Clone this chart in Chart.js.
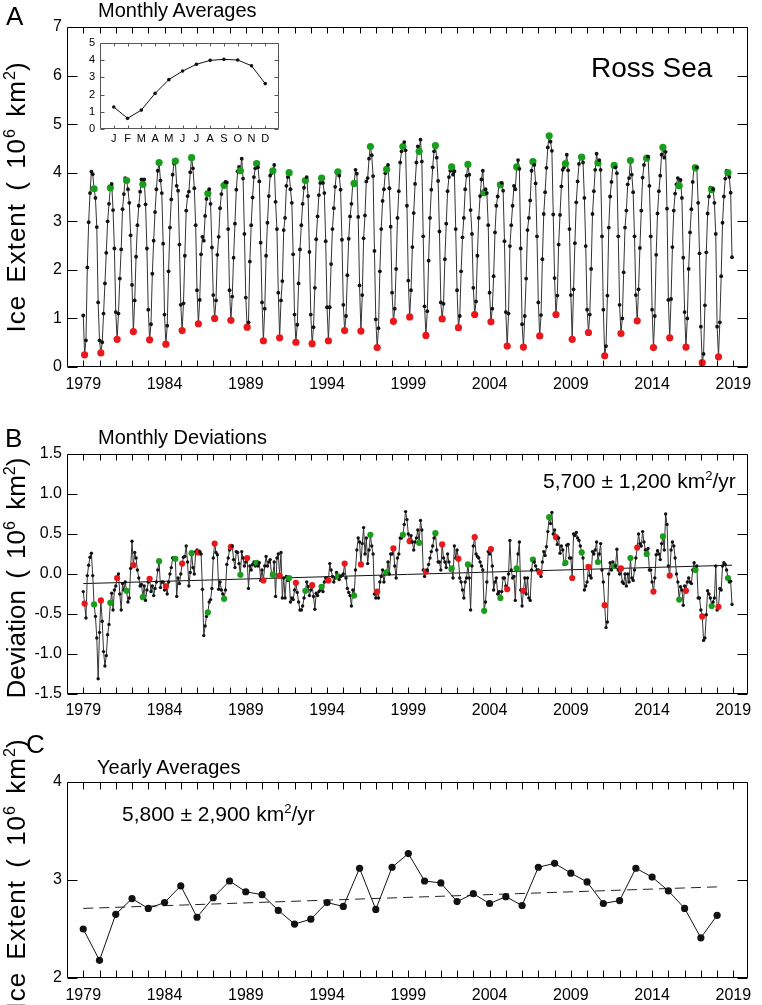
<!DOCTYPE html>
<html lang="en">
<head>
<meta charset="UTF-8">
<title>Ross Sea Ice Extent</title>
<script src="https://cdn.jsdelivr.net/npm/chart.js"></script>
<style>
    body { margin: 0; background: #fff; }
    #page {
        position: relative; width: 762px; height: 1005px; overflow: hidden;
        font-family: "Liberation Sans", Arial, sans-serif; color: #000;
    }
    canvas { position: absolute; }
    .lbl { position: absolute; white-space: nowrap; line-height: 1; }
    .panel { font-size: 26px; }
    .title { font-size: 20px; }
    .trend { font-size: 21px; }
    .ytitle {
        position: absolute; white-space: nowrap; line-height: 1;
        font-size: 26px; letter-spacing: 1px; word-spacing: 4px;
        transform: translate(-50%, -50%) rotate(-90deg);
    }
    sup { font-size: 62%; vertical-align: baseline; position: relative; top: -0.6em; letter-spacing: 0; }
</style>
</head>
<body>
<div id="page">
    <canvas id="chartA" width="762" height="400" style="left:0;top:0"></canvas>
    <canvas id="chartInset" width="240" height="120" style="left:50px;top:30px"></canvas>
    <canvas id="chartB" width="762" height="325" style="left:0;top:400px"></canvas>
    <canvas id="chartC" width="762" height="280" style="left:0;top:725px"></canvas>

    <div class="lbl panel" style="left:6px;top:3px">A</div>
    <div class="lbl title" style="left:98px;top:0px">Monthly Averages</div>
    <div class="lbl" style="left:591px;top:54px;font-size:28px">Ross Sea</div>
    <div class="ytitle" style="left:16px;top:197px">Ice Extent ( 10<sup>6</sup> km<sup>2</sup>)</div>

    <div class="lbl panel" style="left:5px;top:425px">B</div>
    <div class="lbl title" style="left:98px;top:427px">Monthly Deviations</div>
    <div class="lbl trend" style="left:543px;top:470px">5,700 ± 1,200 km<sup>2</sup>/yr</div>
    <div class="ytitle" style="left:16px;top:578px;letter-spacing:0">Deviation ( 10<sup>6</sup> km<sup>2</sup>)</div>

    <div class="lbl panel" style="left:26px;top:731px">C</div>
    <div class="lbl title" style="left:97px;top:757px">Yearly Averages</div>
    <div class="lbl trend" style="left:122px;top:803px">5,800 ± 2,900 km<sup>2</sup>/yr</div>
    <div class="ytitle" style="left:16px;top:874px">Ice Extent ( 10<sup>6</sup> km<sup>2</sup>)</div>
</div>

<script>
    // ---- data (10^6 km^2) ----
    const years = [1979, 1980, 1981, 1982, 1983, 1984, 1985, 1986, 1987, 1988,
                   1989, 1990, 1991, 1992, 1993, 1994, 1995, 1996, 1997, 1998,
                   1999, 2000, 2001, 2002, 2003, 2004, 2005, 2006, 2007, 2008,
                   2009, 2010, 2011, 2012, 2013, 2014, 2015, 2016, 2017, 2018];
    const monthLetters = ['J', 'F', 'M', 'A', 'M', 'J', 'J', 'A', 'S', 'O', 'N', 'D'];
    const climatology = [1.28, 0.62, 1.10, 2.07, 2.87, 3.37, 3.76, 3.99, 4.05, 4.01, 3.68, 2.64];
    const yearLabels = [1979, 1984, 1989, 1994, 1999, 2004, 2009, 2014, 2019];

    // monthly extent, one row per year (Jan..Dec)
    const extent = [
        [1.06, 0.25, 0.55, 2.05, 2.98, 3.58, 4.02, 3.97, 3.67, 3.48, 2.88, 1.33],
        [0.55, 0.29, 0.51, 1.10, 1.72, 2.35, 3.00, 3.36, 3.69, 3.77, 3.23, 2.44],
        [1.13, 0.57, 1.10, 1.82, 2.42, 3.25, 3.56, 3.89, 3.84, 3.66, 3.38, 2.71],
        [1.69, 0.73, 1.37, 2.27, 2.92, 3.32, 3.61, 3.86, 3.76, 3.86, 3.35, 2.44],
        [1.18, 0.56, 0.88, 1.92, 2.60, 3.19, 3.66, 4.04, 4.21, 3.84, 3.58, 2.54],
        [1.08, 0.47, 0.85, 1.97, 2.87, 3.45, 3.96, 4.19, 4.24, 3.73, 3.63, 2.52],
        [1.28, 0.75, 1.31, 2.29, 3.22, 3.52, 3.61, 4.01, 4.31, 4.09, 3.68, 2.92],
        [1.58, 0.89, 1.38, 2.32, 2.68, 2.60, 3.11, 3.46, 3.57, 3.66, 3.36, 2.46],
        [1.48, 1.00, 1.37, 2.31, 2.68, 3.27, 3.56, 3.74, 3.74, 3.81, 3.80, 2.84],
        [1.58, 0.96, 1.45, 2.25, 2.95, 3.65, 4.03, 4.12, 4.04, 4.29, 3.88, 2.74],
        [1.43, 0.82, 0.92, 2.17, 2.92, 3.49, 3.91, 4.09, 4.19, 4.11, 3.82, 2.56],
        [1.33, 0.54, 1.20, 2.29, 2.97, 3.52, 3.94, 3.99, 4.04, 4.16, 3.40, 2.84],
        [1.53, 0.60, 1.37, 1.77, 2.82, 3.07, 3.73, 3.91, 4.00, 3.66, 3.38, 2.32],
        [1.08, 0.51, 0.87, 1.72, 2.42, 2.92, 3.36, 3.69, 3.84, 3.91, 3.52, 2.37],
        [1.08, 0.48, 0.82, 1.63, 2.63, 3.10, 3.54, 3.79, 3.89, 3.79, 3.58, 2.59],
        [1.23, 0.54, 1.23, 2.12, 2.84, 3.27, 3.71, 4.01, 4.02, 3.94, 3.65, 2.62],
        [1.28, 0.75, 1.05, 1.89, 2.64, 3.10, 3.36, 3.79, 3.78, 4.06, 3.98, 3.09],
        [1.68, 0.74, 1.48, 2.65, 3.12, 3.82, 3.89, 4.29, 4.54, 4.36, 3.93, 2.39],
        [0.98, 0.40, 0.80, 1.97, 2.84, 3.42, 3.66, 3.99, 4.07, 4.16, 3.68, 2.89],
        [1.53, 0.94, 1.20, 2.02, 3.07, 3.62, 4.21, 4.44, 4.54, 4.63, 4.46, 3.32],
        [1.78, 1.03, 1.58, 2.47, 3.17, 3.77, 4.21, 4.54, 4.44, 4.68, 4.23, 2.69],
        [1.25, 0.65, 1.15, 2.19, 3.07, 3.65, 4.11, 4.44, 4.56, 4.31, 3.83, 2.79],
        [1.33, 0.99, 1.30, 2.22, 2.95, 3.62, 3.91, 4.04, 4.12, 3.96, 4.03, 2.84],
        [1.58, 0.81, 1.05, 1.97, 2.67, 3.07, 3.66, 3.94, 4.17, 3.96, 3.23, 2.74],
        [1.63, 1.08, 1.35, 2.29, 3.07, 3.52, 3.86, 4.04, 3.59, 3.66, 3.58, 2.92],
        [1.53, 0.93, 1.20, 1.87, 2.77, 3.32, 3.51, 3.77, 3.75, 3.79, 3.63, 2.59],
        [1.13, 0.43, 1.10, 2.49, 2.92, 3.32, 3.73, 3.66, 4.12, 4.26, 4.08, 2.44],
        [0.88, 0.41, 1.05, 1.82, 2.82, 3.07, 3.43, 4.04, 4.23, 4.16, 3.78, 2.69],
        [1.33, 0.64, 1.07, 2.22, 3.15, 3.60, 4.10, 4.52, 4.76, 4.64, 4.45, 3.14],
        [1.83, 1.08, 1.47, 2.52, 3.13, 3.72, 4.06, 4.11, 4.19, 4.37, 4.05, 2.84],
        [1.48, 0.57, 1.60, 2.55, 3.39, 3.82, 4.18, 4.34, 4.32, 4.21, 3.48, 2.49],
        [1.18, 0.71, 1.08, 2.02, 3.15, 3.62, 4.06, 4.39, 4.20, 4.26, 4.06, 2.69],
        [1.18, 0.23, 0.43, 1.47, 2.87, 3.51, 3.81, 4.14, 4.15, 4.11, 3.99, 2.69],
        [1.28, 0.69, 1.00, 1.95, 2.87, 3.22, 3.76, 3.89, 4.25, 3.96, 3.60, 2.69],
        [1.48, 0.95, 1.60, 2.45, 3.22, 3.90, 4.16, 4.29, 4.30, 4.33, 3.73, 2.69],
        [1.18, 0.40, 1.05, 2.31, 3.16, 3.62, 3.94, 4.37, 4.52, 4.31, 4.43, 3.26],
        [1.38, 0.60, 1.40, 2.47, 3.22, 3.57, 3.76, 3.89, 3.73, 3.85, 3.48, 2.25],
        [1.13, 0.41, 1.00, 2.02, 2.77, 3.25, 3.81, 4.13, 4.10, 4.11, 3.38, 2.34],
        [0.83, 0.09, 0.27, 1.27, 2.36, 3.16, 3.51, 3.69, 3.65, 3.66, 3.38, 2.74],
        [0.83, 0.21, 0.92, 1.87, 2.97, 3.51, 3.88, 4.04, 4.00, 3.91, 3.59, 2.26]
    ];

    // monthly deviations from the climatology, one row per year
    const deviation = [
        [-0.22, -0.37, -0.55, -0.02, 0.11, 0.21, 0.26, -0.02, -0.38, -0.53, -0.80, -1.31],
        [-0.73, -0.33, -0.59, -0.97, -1.15, -1.02, -0.76, -0.63, -0.36, -0.24, -0.45, -0.20],
        [-0.15, -0.05, 0.00, -0.25, -0.45, -0.12, -0.20, -0.10, -0.21, -0.35, -0.30, 0.07],
        [0.41, 0.11, 0.27, 0.20, 0.05, -0.05, -0.15, -0.13, -0.29, -0.15, -0.33, -0.20],
        [-0.10, -0.06, -0.22, -0.15, -0.27, -0.18, -0.10, 0.05, 0.16, -0.17, -0.10, -0.10],
        [-0.20, -0.15, -0.25, -0.10, 0.00, 0.08, 0.20, 0.20, 0.19, -0.28, -0.05, -0.12],
        [0.00, 0.13, 0.21, 0.22, 0.35, 0.15, -0.15, 0.02, 0.26, 0.08, 0.00, 0.28],
        [0.30, 0.27, 0.28, 0.25, -0.19, -0.77, -0.65, -0.53, -0.48, -0.35, -0.32, -0.18],
        [0.20, 0.38, 0.27, 0.24, -0.19, -0.10, -0.20, -0.25, -0.31, -0.20, 0.12, 0.20],
        [0.30, 0.34, 0.35, 0.18, 0.08, 0.28, 0.27, 0.13, -0.01, 0.28, 0.20, 0.10],
        [0.15, 0.20, -0.18, 0.10, 0.05, 0.12, 0.15, 0.10, 0.14, 0.10, 0.14, -0.08],
        [0.05, -0.08, 0.10, 0.22, 0.10, 0.15, 0.18, 0.00, -0.01, 0.15, -0.28, 0.20],
        [0.25, -0.02, 0.27, -0.30, -0.05, -0.30, -0.03, -0.08, -0.05, -0.35, -0.30, -0.32],
        [-0.20, -0.11, -0.23, -0.35, -0.45, -0.45, -0.40, -0.30, -0.21, -0.10, -0.16, -0.27],
        [-0.20, -0.14, -0.28, -0.44, -0.24, -0.27, -0.22, -0.20, -0.16, -0.22, -0.10, -0.05],
        [-0.05, -0.08, 0.13, 0.05, -0.03, -0.10, -0.05, 0.02, -0.03, -0.07, -0.03, -0.02],
        [0.00, 0.13, -0.05, -0.18, -0.23, -0.27, -0.40, -0.20, -0.27, 0.05, 0.30, 0.45],
        [0.40, 0.12, 0.38, 0.58, 0.25, 0.45, 0.13, 0.30, 0.49, 0.35, 0.25, -0.25],
        [-0.30, -0.22, -0.30, -0.10, -0.03, 0.05, -0.10, 0.00, 0.02, 0.15, 0.00, 0.25],
        [0.25, 0.32, 0.10, -0.05, 0.20, 0.25, 0.45, 0.45, 0.49, 0.62, 0.78, 0.68],
        [0.50, 0.41, 0.48, 0.40, 0.30, 0.40, 0.45, 0.55, 0.39, 0.67, 0.55, 0.05],
        [-0.03, 0.03, 0.05, 0.12, 0.20, 0.28, 0.35, 0.45, 0.51, 0.30, 0.15, 0.15],
        [0.05, 0.37, 0.20, 0.15, 0.08, 0.25, 0.15, 0.05, 0.07, -0.05, 0.35, 0.20],
        [0.30, 0.19, -0.05, -0.10, -0.20, -0.30, -0.10, -0.05, 0.12, -0.05, -0.45, 0.10],
        [0.35, 0.46, 0.25, 0.22, 0.20, 0.15, 0.10, 0.05, -0.46, -0.35, -0.10, 0.28],
        [0.25, 0.31, 0.10, -0.20, -0.10, -0.05, -0.25, -0.22, -0.30, -0.22, -0.05, -0.05],
        [-0.15, -0.19, 0.00, 0.42, 0.05, -0.05, -0.03, -0.33, 0.07, 0.25, 0.40, -0.20],
        [-0.40, -0.21, -0.05, -0.25, -0.05, -0.30, -0.33, 0.05, 0.18, 0.15, 0.10, 0.05],
        [0.05, 0.02, -0.03, 0.15, 0.28, 0.23, 0.34, 0.53, 0.71, 0.63, 0.77, 0.50],
        [0.55, 0.46, 0.37, 0.45, 0.26, 0.35, 0.30, 0.12, 0.14, 0.36, 0.37, 0.20],
        [0.20, -0.05, 0.50, 0.48, 0.52, 0.45, 0.42, 0.35, 0.27, 0.20, -0.20, -0.15],
        [-0.10, 0.09, -0.02, -0.05, 0.28, 0.25, 0.30, 0.40, 0.15, 0.25, 0.38, 0.05],
        [-0.10, -0.39, -0.67, -0.60, 0.00, 0.14, 0.05, 0.15, 0.10, 0.10, 0.31, 0.05],
        [0.00, 0.07, -0.10, -0.12, 0.00, -0.15, 0.00, -0.10, 0.20, -0.05, -0.08, 0.05],
        [0.20, 0.33, 0.50, 0.38, 0.35, 0.53, 0.40, 0.30, 0.25, 0.32, 0.05, 0.05],
        [-0.10, -0.22, -0.05, 0.24, 0.29, 0.25, 0.18, 0.38, 0.47, 0.30, 0.75, 0.62],
        [0.10, -0.02, 0.30, 0.40, 0.35, 0.20, 0.00, -0.10, -0.32, -0.16, -0.20, -0.39],
        [-0.15, -0.21, -0.10, -0.05, -0.10, -0.12, 0.05, 0.14, 0.05, 0.10, -0.30, -0.30],
        [-0.45, -0.53, -0.83, -0.80, -0.51, -0.21, -0.25, -0.30, -0.40, -0.35, -0.30, 0.10],
        [-0.45, -0.41, -0.18, -0.20, 0.10, 0.14, 0.12, 0.05, -0.05, -0.10, -0.09, -0.38]
    ];

    const yearlyAvg = [2.50, 2.18, 2.65, 2.81, 2.71, 2.77, 2.94, 2.62, 2.82, 2.99,
                       2.88, 2.85, 2.69, 2.55, 2.60, 2.77, 2.73, 3.12, 2.70, 3.13,
                       3.27, 2.99, 2.97, 2.78, 2.86, 2.76, 2.83, 2.74, 3.13, 3.17,
                       3.07, 2.98, 2.76, 2.79, 3.12, 3.03, 2.89, 2.71, 2.41, 2.64];

    // fitted trend lines: end points
    const devTrendX = [1979, 2018.92];
    const devTrend = [-0.12, 0.11];
    const avgTrendX = [1979, 2018];
    const avgTrend = [2.71, 2.93];

    // ---- drawing ----
    const RED = 'rgb(232, 24, 28)';
    const GREEN = 'rgb(24, 158, 28)';
    const INK = '#111';
    const tickFont = { family: '"Liberation Sans", Arial, sans-serif', size: 16 };
    const smallFont = { family: '"Liberation Sans", Arial, sans-serif', size: 11 };
    const tickYears = Array.from({ length: 41 }, (_, i) => 1979 + i);
    const noGrid = { display: false, drawTicks: false };

    function monthlyPoints(rows) {
        const pts = [];
        rows.forEach((row, i) => row.forEach((v, m) => pts.push({ x: years[i] + m / 12, y: v })));
        return pts;
    }

    // Feb is red, Sep is green
    const markColor = ctx => {
        const m = ctx.dataIndex % 12;
        return m === 1 ? RED : m === 8 ? GREEN : INK;
    };
    const markSize = (big, small) => ctx => {
        const m = ctx.dataIndex % 12;
        return (m === 1 || m === 8) ? big : small;
    };

    // box around the plot with inward tick marks on all four sides
    const frameTicks = {
        id: 'frameTicks',
        afterDraw(chart, args, opts) {
            const { ctx, chartArea: a, scales: { x, y } } = chart;
            const L = Math.round(a.left) + 0.5, R = Math.round(a.right) - 0.5;
            const T = Math.round(a.top) + 0.5, B = Math.round(a.bottom) - 0.5;
            ctx.save();
            ctx.strokeStyle = opts.color;
            ctx.lineWidth = 1;
            ctx.beginPath();
            ctx.rect(L, T, R - L, B - T);
            opts.xTicks.forEach(v => {
                const px = Math.round(x.getPixelForValue(v)) + 0.5;
                ctx.moveTo(px, T); ctx.lineTo(px, T + opts.xLen);
                ctx.moveTo(px, B); ctx.lineTo(px, B - opts.xLen);
            });
            opts.yTicks.forEach(v => {
                const py = Math.round(y.getPixelForValue(v)) + 0.5;
                ctx.moveTo(L, py); ctx.lineTo(L + opts.yLen, py);
                ctx.moveTo(R, py); ctx.lineTo(R - opts.yLen, py);
            });
            ctx.stroke();
            ctx.restore();
        }
    };

    function yearAxis(height, pad) {
        return {
            type: 'linear', min: 1978, max: 2019.9,
            grid: noGrid, border: { display: false },
            afterBuildTicks: s => { s.ticks = yearLabels.map(v => ({ value: v })); },
            afterFit: s => { s.height = height; },
            ticks: { autoSkip: false, maxRotation: 0, padding: pad, color: '#000', font: tickFont,
                     callback: v => String(v) }
        };
    }

    function valueAxis(min, max, vals, fmt) {
        return {
            min, max,
            grid: noGrid, border: { display: false },
            afterBuildTicks: s => { s.ticks = vals.map(v => ({ value: v })); },
            afterFit: s => { s.width = 67; },
            ticks: { padding: 5, color: '#000', font: tickFont, callback: fmt }
        };
    }

    function baseOptions(padding, scales, frame) {
        return {
            responsive: false, animation: false, devicePixelRatio: 1,
            layout: { padding },
            elements: { line: { tension: 0 } },
            plugins: { legend: { display: false }, tooltip: { enabled: false }, frameTicks: frame },
            scales
        };
    }

    // A: monthly averages
    new Chart(document.getElementById('chartA'), {
        type: 'line',
        data: {
            datasets: [{
                data: monthlyPoints(extent),
                borderColor: '#333', borderWidth: 1,
                pointRadius: markSize(3.6, 1.9), pointBorderWidth: 0,
                pointBackgroundColor: markColor
            }]
        },
        options: baseOptions({ left: 0, right: 14, top: 27, bottom: 0 }, {
            x: yearAxis(33, 8),
            y: valueAxis(0, 7, [0, 1, 2, 3, 4, 5, 6, 7], v => String(v))
        }, { color: '#000', xTicks: tickYears, yTicks: [0, 1, 2, 3, 4, 5, 6, 7], xLen: 6, yLen: 10 }),
        plugins: [frameTicks]
    });

    // inset: mean annual cycle
    new Chart(document.getElementById('chartInset'), {
        type: 'line',
        data: {
            datasets: [{
                data: climatology.map((v, i) => ({ x: i, y: v })),
                borderColor: '#111', borderWidth: 1,
                pointRadius: 1.8, pointBorderWidth: 0, pointBackgroundColor: '#111'
            }]
        },
        options: baseOptions({ left: 0, right: 11, top: 13, bottom: 0 }, {
            x: {
                type: 'linear', min: -1, max: 12,
                grid: noGrid, border: { display: false },
                afterBuildTicks: s => { s.ticks = monthLetters.map((_, i) => ({ value: i })); },
                afterFit: s => { s.height = 21; },
                ticks: { autoSkip: false, maxRotation: 0, padding: 3, color: '#000', font: smallFont,
                         callback: v => monthLetters[v] }
            },
            y: {
                min: 0, max: 5,
                grid: noGrid, border: { display: false },
                afterBuildTicks: s => { s.ticks = [0, 1, 2, 3, 4, 5].map(v => ({ value: v })); },
                afterFit: s => { s.width = 50; },
                ticks: { padding: 5, color: '#000', font: smallFont, callback: v => String(v) }
            }
        }, { color: '#555', xTicks: monthLetters.map((_, i) => i), yTicks: [0, 1, 2, 3, 4, 5], xLen: 3, yLen: 4 }),
        plugins: [frameTicks]
    });

    // B: monthly deviations
    new Chart(document.getElementById('chartB'), {
        type: 'line',
        data: {
            datasets: [{
                data: monthlyPoints(deviation),
                borderColor: '#333', borderWidth: 1,
                pointRadius: markSize(3.1, 1.7), pointBorderWidth: 0,
                pointBackgroundColor: markColor
            }, {
                data: devTrendX.map((x, i) => ({ x, y: devTrend[i] })),
                borderColor: '#111', borderWidth: 1, pointRadius: 0
            }]
        },
        options: baseOptions({ left: 0, right: 14, top: 54, bottom: 0 }, {
            x: yearAxis(31, 7),
            y: valueAxis(-1.5, 1.5, [-1.5, -1, -0.5, 0, 0.5, 1, 1.5], v => v.toFixed(1))
        }, { color: '#000', xTicks: tickYears, yTicks: [-1.5, -1, -0.5, 0, 0.5, 1, 1.5], xLen: 6, yLen: 10 }),
        plugins: [frameTicks]
    });

    // C: yearly averages
    new Chart(document.getElementById('chartC'), {
        type: 'line',
        data: {
            datasets: [{
                data: years.map((yr, i) => ({ x: yr, y: yearlyAvg[i] })),
                borderColor: '#111', borderWidth: 1,
                pointRadius: 3.6, pointBorderWidth: 0, pointBackgroundColor: '#111'
            }, {
                data: avgTrendX.map((x, i) => ({ x, y: avgTrend[i] })),
                borderColor: '#222', borderWidth: 1, borderDash: [10, 6], pointRadius: 0
            }]
        },
        options: baseOptions({ left: 0, right: 14, top: 57, bottom: 0 }, {
            x: yearAxis(27, 8),
            y: valueAxis(2, 4, [2, 3, 4], v => String(v))
        }, { color: '#000', xTicks: tickYears, yTicks: [2, 3, 4], xLen: 7, yLen: 10 }),
        plugins: [frameTicks]
    });
</script>
</body>
</html>
